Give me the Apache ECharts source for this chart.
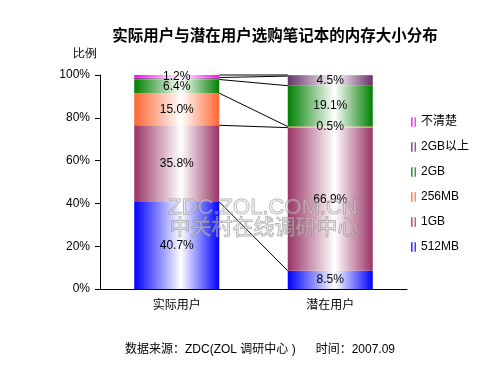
<!DOCTYPE html>
<html>
<head>
<meta charset="utf-8">
<script src="https://cdn.jsdelivr.net/npm/echarts@6/dist/echarts.min.js"></script>
<style>html,body{margin:0;padding:0;background:#fff;}#c{width:500px;height:375px;}</style>
</head>
<body>
<div id="c"></div>
<script>
// ---- data ----
var categories = ['实际用户', '潜在用户'];
var seriesNames = ['512MB', '1GB', '256MB', '2GB', '2GB以上', '不清楚'];
var v512MB = [40.7, 8.5];
var v1GB = [35.8, 66.9];
var v256MB = [15.0, 0.5];
var v2GB = [6.4, 19.1];
var v2GBplus = [0.9, 4.5];
var vUnknown = [1.2, 0.5];
var yTicks = [0, 20, 40, 60, 80, 100];
// labels not printed in the original: [seriesIndex, categoryIndex]
var hiddenLabels = [[4, 0], [5, 1]];

var values = [v512MB, v1GB, v256MB, v2GB, v2GBplus, vUnknown];
var colors = ['#0000FF', '#993366', '#FF6633', '#008000', '#663366', '#FF00FF'];
var FONT = '"Liberation Sans", "Noto Sans CJK SC", sans-serif';
var BAR_W = 85;

function grad(c) {
  return new echarts.graphic.LinearGradient(0, 0, 1, 0, [
    {offset: 0, color: c}, {offset: 0.55, color: '#ffffff'}, {offset: 1, color: c}
  ]);
}
function isHidden(s, i) {
  return hiddenLabels.some(function (h) { return h[0] === s && h[1] === i; });
}

var series = seriesNames.map(function (name, s) {
  return {
    name: name, type: 'bar', stack: 'total', barWidth: BAR_W,
    itemStyle: {color: grad(colors[s])},
    label: {
      show: true, position: 'inside', color: '#000', fontSize: 12, fontFamily: FONT,
      formatter: function (p) { return p.value.toFixed(1) + '%'; }
    },
    data: values[s].map(function (v, i) {
      return isHidden(s, i) ? {value: v, label: {show: false}} : v;
    })
  };
});

// series lines (connect the top of each segment between the two bars)
var lineData = [];
var c0 = 0, c1 = 0;
values.forEach(function (arr) {
  c0 += arr[0]; c1 += arr[1];
  lineData.push([0, Math.min(c0, 100), Math.min(c1, 100)]);
});
series.push({
  type: 'custom', silent: true, z: 5,
  encode: {x: 0, y: [1, 2]},
  data: lineData,
  renderItem: function (params, api) {
    var p0 = api.coord([0, api.value(1)]);
    var p1 = api.coord([1, api.value(2)]);
    return {
      type: 'line',
      shape: {x1: p0[0] + BAR_W / 2, y1: p0[1], x2: p1[0] - BAR_W / 2, y2: p1[1]},
      style: {stroke: '#000', lineWidth: 1}
    };
  }
});

var chart = echarts.init(document.getElementById('c'));
chart.setOption({
  animation: false,
  backgroundColor: '#fff',
  textStyle: {fontFamily: FONT},
  title: {
    text: '实际用户与潜在用户选购笔记本的内存大小分布',
    left: 270, top: 24, textAlign: 'center',
    textStyle: {fontSize: 15.5, fontWeight: 'bold', color: '#000', fontFamily: FONT}
  },
  legend: {
    orient: 'vertical', left: 406, top: 111,
    itemWidth: 5, itemHeight: 10, itemGap: 13,
    data: seriesNames.slice().reverse(),
    textStyle: {fontSize: 12, color: '#000', fontFamily: FONT}
  },
  grid: {left: 100, right: 93, top: 75, bottom: 86},
  xAxis: {
    type: 'category', data: categories,
    axisLine: {lineStyle: {color: '#000'}},
    axisTick: {inside: true, length: 4, lineStyle: {color: '#000'}},
    axisLabel: {color: '#000', fontSize: 12, margin: 11, fontFamily: FONT}
  },
  yAxis: {
    type: 'value', min: yTicks[0], max: yTicks[yTicks.length - 1], interval: 20,
    axisLine: {show: true, lineStyle: {color: '#000'}},
    axisTick: {show: true, length: 5, lineStyle: {color: '#000'}},
    splitLine: {show: false},
    axisLabel: {color: '#000', fontSize: 12, margin: 10, fontFamily: FONT, formatter: '{value}%'}
  },
  graphic: [
    {type: 'text', left: 73, top: 48, style: {text: '比例', fontSize: 12, fill: '#000', font: '12px ' + FONT}},
    {type: 'text', left: 125, top: 344, style: {text: '数据来源：ZDC(ZOL 调研中心 )      时间：2007.09', fill: '#000', font: '12px ' + FONT}},
    {type: 'text', z: 100, x: 263, y: 208, style: {text: 'ZDC.ZOL.COM.CN', align: 'center', verticalAlign: 'middle', font: '22px ' + FONT, fill: 'rgba(255,255,255,0.3)', stroke: 'rgba(120,120,120,0.6)', lineWidth: 1}},
    {type: 'text', z: 100, x: 264, y: 228, style: {text: '中关村在线调研中心', align: 'center', verticalAlign: 'middle', font: '21px ' + FONT, fill: 'rgba(255,255,255,0.3)', stroke: 'rgba(120,120,120,0.6)', lineWidth: 1}}
  ],
  series: series
});
</script>
</body>
</html>
